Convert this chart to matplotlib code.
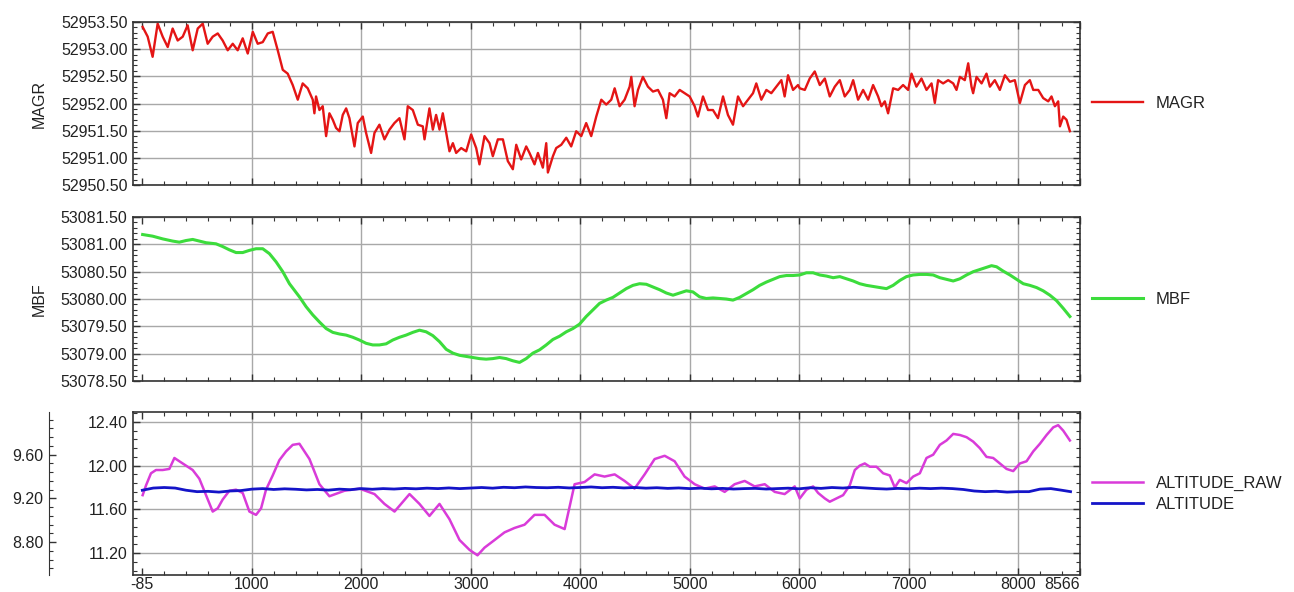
import matplotlib
matplotlib.use("Agg")
import matplotlib.pyplot as plt
from matplotlib.ticker import MultipleLocator, FixedLocator, FormatStrFormatter

plt.rcParams['font.family'] = ['Liberation Sans', 'DejaVu Sans']
plt.rcParams['font.size'] = 11.5

# x axis (record index), shared by all panels
x_ticks = [0, 1000, 2000, 3000, 4000, 5000, 6000, 7000, 8000, 8566]
x_tick_labels = ['-85', '1000', '2000', '3000', '4000', '5000', '6000', '7000', '8000', '8566']

# MAGR
magr_x = [3, 49, 94, 140, 186, 232, 277, 323, 369, 414,
          460, 506, 552, 597, 643, 689, 734, 780, 826, 871,
          917, 963, 1009, 1054, 1100, 1146, 1191, 1237, 1283, 1328,
          1374, 1420,
          1465, 1511, 1557, 1572, 1587, 1618, 1648, 1679, 1709, 1740,
          1770, 1801, 1831, 1862, 1892, 1938, 1968, 2014, 2044, 2090,
          2121, 2166, 2212, 2258, 2303, 2349, 2395, 2425, 2471, 2517,
          2562, 2578, 2623, 2654, 2684, 2715, 2745, 2776, 2806, 2837,
          2867, 2913, 2959, 3004, 3050, 3080, 3126, 3172, 3202, 3248,
          3294, 3339, 3385, 3416, 3461, 3507, 3537, 3583, 3614, 3659,
          3690, 3705, 3751, 3781, 3827, 3873, 3918, 3964, 4010, 4055,
          4101, 4147, 4193, 4238, 4284, 4315, 4360, 4406, 4452, 4467,
          4497, 4528, 4573, 4619, 4665, 4711, 4756, 4787, 4817, 4863,
          4909, 4954, 5000, 5046, 5076, 5122, 5168, 5213, 5259, 5305,
          5350, 5396, 5442, 5488, 5533, 5579, 5609, 5655, 5701, 5746,
          5792, 5838, 5868, 5899, 5945, 5990,
          6006, 6052, 6097, 6143, 6189, 6235, 6280, 6326, 6372, 6417,
          6463, 6494, 6539, 6585, 6631, 6676, 6722, 6752, 6783, 6813,
          6859, 6905, 6950, 6996, 7027, 7072, 7118, 7164, 7210, 7240,
          7270, 7316, 7362, 7408, 7438, 7469, 7514, 7545, 7575, 7590,
          7621, 7667, 7712, 7743, 7788, 7834, 7880, 7926, 7971, 8017,
          8063, 8108, 8139, 8185, 8230, 8276, 8306, 8337, 8367, 8383,
          8413, 8443, 8474]
magr = [52953.41, 52953.23, 52952.86, 52953.47, 52953.23, 52953.04, 52953.38, 52953.16, 52953.23, 52953.44,
        52952.98, 52953.38, 52953.47, 52953.10, 52953.23, 52953.29, 52953.16, 52952.98, 52953.10, 52952.98,
        52953.20, 52952.92, 52953.32, 52953.10, 52953.13, 52953.29, 52953.32, 52952.98, 52952.62, 52952.55,
        52952.34, 52952.07,
        52952.37, 52952.28, 52952.07, 52951.82, 52952.13, 52951.88, 52951.95, 52951.40, 52951.82, 52951.70,
        52951.55, 52951.49, 52951.79, 52951.91, 52951.73, 52951.21, 52951.64, 52951.76, 52951.46, 52951.09,
        52951.46, 52951.61, 52951.34, 52951.52, 52951.64, 52951.73, 52951.34, 52951.95, 52951.88, 52951.61,
        52951.58, 52951.34, 52951.91, 52951.52, 52951.79, 52951.52, 52951.82, 52951.46, 52951.12, 52951.27,
        52951.09, 52951.18, 52951.12, 52951.43, 52951.18, 52950.88, 52951.40, 52951.27, 52951.03, 52951.34,
        52951.34, 52950.94, 52950.79, 52951.24, 52950.97, 52951.21, 52951.09, 52950.88, 52951.09, 52950.82,
        52951.27, 52950.73, 52951.03, 52951.18, 52951.24, 52951.37, 52951.21, 52951.49, 52951.40, 52951.64,
        52951.40, 52951.76, 52952.07, 52951.98, 52952.07, 52952.28, 52951.95, 52952.07, 52952.31, 52952.49,
        52951.95, 52952.25, 52952.49, 52952.31, 52952.22, 52952.25, 52952.07, 52951.73, 52952.19, 52952.13,
        52952.25, 52952.19, 52952.13, 52951.95, 52951.76, 52952.13, 52951.88, 52951.88, 52951.73, 52952.13,
        52951.79, 52951.61, 52952.13, 52951.95, 52952.07, 52952.19, 52952.37, 52952.07, 52952.25, 52952.19,
        52952.31, 52952.43, 52952.13, 52952.52, 52952.25, 52952.34,
        52952.28, 52952.25, 52952.46, 52952.59, 52952.34, 52952.46, 52952.13, 52952.31, 52952.43, 52952.13,
        52952.25, 52952.43, 52952.07, 52952.25, 52952.07, 52952.34, 52952.13, 52951.95, 52952.04, 52951.82,
        52952.28, 52952.25, 52952.34, 52952.25, 52952.55, 52952.31, 52952.46, 52952.25, 52952.37, 52952.01,
        52952.43, 52952.37, 52952.43, 52952.37, 52952.25, 52952.49, 52952.43, 52952.74, 52952.31, 52952.19,
        52952.49, 52952.37, 52952.55, 52952.31, 52952.43, 52952.25, 52952.52, 52952.40, 52952.43, 52952.01,
        52952.34, 52952.43, 52952.25, 52952.25, 52952.10, 52952.04, 52952.13, 52951.95, 52952.04, 52951.58,
        52951.76, 52951.70, 52951.49]

# MBF
mbf_x = [3, 94, 186, 277, 338, 399, 460, 521, 582, 673,
         734, 795, 856, 917, 978, 1039, 1100, 1161, 1222, 1283,
         1344, 1389,
         1435, 1496, 1557, 1618, 1679, 1740, 1801, 1862, 1923, 1983,
         2044, 2105, 2166, 2227, 2288, 2349, 2410, 2471, 2532, 2593,
         2654, 2715, 2776, 2837, 2898, 2959, 3019, 3080, 3141, 3202,
         3263, 3324, 3385, 3446, 3507, 3568, 3629, 3690, 3751, 3812,
         3873, 3934, 3994, 4055, 4116, 4177, 4238, 4299, 4360, 4421,
         4482, 4543, 4604, 4665, 4726, 4787, 4848, 4909, 4970, 5030,
         5091, 5152, 5213, 5274, 5335, 5396, 5457, 5518, 5579, 5640,
         5701, 5762, 5823, 5884, 5945,
         6006, 6067, 6128, 6189, 6250, 6311, 6372, 6433, 6494, 6554,
         6615, 6676, 6737, 6798, 6859, 6920, 6981, 7042, 7103, 7164,
         7225, 7286, 7347, 7408, 7469, 7530, 7591, 7651, 7712, 7758,
         7804, 7865, 7926, 7987, 8048, 8108, 8169, 8230, 8291, 8352,
         8413, 8474]
mbf = [53081.18, 53081.15, 53081.10, 53081.06, 53081.04, 53081.07, 53081.09, 53081.06, 53081.03, 53081.01,
       53080.96, 53080.90, 53080.85, 53080.85, 53080.89, 53080.92, 53080.92, 53080.83, 53080.68, 53080.50,
       53080.28, 53080.16,
       53080.04, 53079.86, 53079.71, 53079.58, 53079.46, 53079.39, 53079.36, 53079.34, 53079.30, 53079.25,
       53079.19, 53079.16, 53079.16, 53079.18, 53079.25, 53079.30, 53079.34, 53079.39, 53079.43, 53079.40,
       53079.33, 53079.22, 53079.08, 53079.01, 53078.97, 53078.95, 53078.93, 53078.91, 53078.90, 53078.91,
       53078.93, 53078.91, 53078.87, 53078.84, 53078.91, 53079.01, 53079.07, 53079.16, 53079.26, 53079.32,
       53079.40, 53079.46, 53079.54, 53079.68, 53079.80, 53079.92, 53079.98, 53080.03, 53080.11, 53080.19,
       53080.25, 53080.28, 53080.27, 53080.22, 53080.17, 53080.11, 53080.07, 53080.11, 53080.15, 53080.13,
       53080.04, 53080.01, 53080.02, 53080.01, 53080.00, 53079.98, 53080.03, 53080.10, 53080.17, 53080.25,
       53080.31, 53080.36, 53080.41, 53080.43, 53080.43,
       53080.44, 53080.48, 53080.48, 53080.44, 53080.42, 53080.39, 53080.41, 53080.37, 53080.33, 53080.28,
       53080.25, 53080.23, 53080.21, 53080.19, 53080.25, 53080.34, 53080.41, 53080.44, 53080.45, 53080.45,
       53080.44, 53080.39, 53080.36, 53080.33, 53080.37, 53080.44, 53080.50, 53080.54, 53080.58, 53080.61,
       53080.59, 53080.51, 53080.44, 53080.36, 53080.28, 53080.25, 53080.21, 53080.15, 53080.07, 53079.97,
       53079.83, 53079.68]

# ALTITUDE_RAW (right-hand scale, 11.x - 12.x)
alt_raw_x = [3, 34, 79, 125, 186, 247, 293, 338, 399, 460,
             521, 582, 643, 689, 734, 795, 856, 917, 978, 1039,
             1085, 1130, 1191, 1252, 1313, 1374, 1435,
             1527, 1618, 1709, 1846, 1984, 2121, 2212, 2304, 2441, 2532,
             2623, 2715, 2806, 2898, 2989, 3062, 3126, 3218, 3309, 3400,
             3492, 3583, 3675, 3766, 3858, 3949, 4040, 4132, 4223, 4315,
             4406, 4497, 4589, 4680, 4772, 4863, 4954, 5046, 5137, 5229,
             5320, 5411, 5503, 5594, 5686, 5777, 5868, 5960,
             6006, 6067, 6128, 6174, 6235, 6280, 6341, 6402, 6463, 6509,
             6554, 6600, 6646, 6707, 6768, 6829, 6874, 6920, 6981, 7042,
             7103, 7164, 7225, 7286, 7347, 7408, 7469, 7530, 7590, 7651,
             7712, 7773, 7834, 7895, 7956, 8017, 8078, 8139, 8200, 8261,
             8322, 8367, 8413, 8474]
alt_raw = [11.73, 11.82, 11.93, 11.96, 11.96, 11.97, 12.07, 12.04, 12.00, 11.96,
           11.88, 11.73, 11.58, 11.61, 11.69, 11.77, 11.78, 11.75, 11.58, 11.55,
           11.61, 11.78, 11.91, 12.05, 12.13, 12.19, 12.20,
           12.06, 11.83, 11.72, 11.77, 11.79, 11.74, 11.65, 11.58, 11.74, 11.65,
           11.54, 11.65, 11.51, 11.32, 11.23, 11.18, 11.25, 11.32, 11.39, 11.43,
           11.46, 11.55, 11.55, 11.46, 11.42, 11.83, 11.85, 11.92, 11.90, 11.92,
           11.86, 11.79, 11.92, 12.06, 12.09, 12.04, 11.90, 11.83, 11.79, 11.81,
           11.76, 11.83, 11.86, 11.81, 11.83, 11.76, 11.74, 11.81,
           11.70, 11.78, 11.81, 11.75, 11.70, 11.67, 11.70, 11.73, 11.82, 11.96,
           12.00, 12.02, 11.99, 11.99, 11.93, 11.91, 11.80, 11.87, 11.84, 11.90,
           11.93, 12.07, 12.10, 12.19, 12.23, 12.29, 12.28, 12.26, 12.22, 12.16,
           12.08, 12.07, 12.02, 11.97, 11.95, 12.02, 12.04, 12.13, 12.20, 12.28,
           12.35, 12.37, 12.32, 12.23]

# ALTITUDE (left-hand offset scale, 8.x - 9.x)
alt_x = list(range(0, 8401, 100)) + [8480]
alt = [9.275, 9.295, 9.300, 9.295, 9.275, 9.262, 9.265, 9.258, 9.268, 9.272, 9.285,
       9.290, 9.282, 9.288, 9.284, 9.278, 9.282, 9.276, 9.285, 9.280, 9.290,
       9.284, 9.290, 9.286, 9.292, 9.288, 9.294, 9.290, 9.296, 9.290, 9.295,
       9.300, 9.294, 9.302, 9.298, 9.305, 9.300, 9.298, 9.302, 9.296, 9.300,
       9.305, 9.298, 9.302, 9.296, 9.300, 9.294, 9.298, 9.292, 9.296, 9.290,
       9.294, 9.288, 9.292, 9.286, 9.290, 9.292, 9.286, 9.290, 9.294, 9.288,
       9.298, 9.292, 9.300, 9.295, 9.302, 9.296, 9.290, 9.286, 9.292, 9.288,
       9.294, 9.290, 9.294, 9.290, 9.282, 9.268, 9.262, 9.266, 9.258, 9.262,
       9.262, 9.285, 9.290, 9.275, 9.262]

text_c = '#222222'
grid_c = '#a8a8a8'


def style_axes(ax, show_xlabels):
    ax.set_xlim(-85, 8566)
    ax.xaxis.set_major_locator(FixedLocator(x_ticks))
    ax.xaxis.set_minor_locator(MultipleLocator(200))
    ax.set_xticklabels(x_tick_labels)
    ax.yaxis.set_major_formatter(FormatStrFormatter('%.2f'))
    ax.tick_params(which='both', direction='in', top=True, right=True,
                   colors='#333333', labelcolor=text_c, labelsize=11.5,
                   labelbottom=show_xlabels, pad=4)
    ax.tick_params(axis='x', pad=1.5)
    ax.tick_params(which='major', length=5, width=1)
    ax.tick_params(which='minor', length=3, width=0.8)
    ax.grid(True, which='major', color=grid_c, lw=1)
    ax.set_axisbelow(True)
    for t in ax.xaxis.get_major_ticks():
        if t.get_loc() in (0, 8566):
            t.gridline.set_visible(False)
    for s in ax.spines.values():
        s.set_color('#333333')
        s.set_linewidth(1.2)


fig = plt.figure(figsize=(12.94, 5.92), dpi=100)
ax1 = fig.add_axes([0.1028, 0.6875, 0.7318, 0.2753])
ax2 = fig.add_axes([0.1028, 0.3564, 0.7318, 0.2770])
ax3 = fig.add_axes([0.1028, 0.0287, 0.7318, 0.2753])

# panel 1
ax1.plot(magr_x, magr, color='#e41515', lw=1.7, label='MAGR')
ax1.set_ylim(52950.5, 52953.5)
ax1.yaxis.set_major_locator(MultipleLocator(0.5))
ax1.yaxis.set_minor_locator(MultipleLocator(0.1))
style_axes(ax1, False)
ax1.set_ylabel('MAGR', fontsize=11.5, color=text_c)
ax1.yaxis.set_label_coords(-0.091, 0.5)

# panel 2
ax2.plot(mbf_x, mbf, color='#3cdc3c', lw=2.2, label='MBF')
ax2.set_ylim(53078.5, 53081.5)
ax2.yaxis.set_major_locator(MultipleLocator(0.5))
ax2.yaxis.set_minor_locator(MultipleLocator(0.1))
style_axes(ax2, False)
ax2.set_ylabel('MBF', fontsize=11.5, color=text_c)
ax2.yaxis.set_label_coords(-0.091, 0.5)

# panel 3
l_raw, = ax3.plot(alt_raw_x, alt_raw, color='#d93bd9', lw=1.8, label='ALTITUDE_RAW')
ax3.set_ylim(11.0, 12.49)
ax3.yaxis.set_major_locator(MultipleLocator(0.4))
ax3.yaxis.set_minor_locator(MultipleLocator(0.08))

ax3b = ax3.twinx()
l_alt, = ax3b.plot(alt_x, alt, color='#1414c8', lw=2.0, label='ALTITUDE')
ax3b.set_ylim(8.5, 9.99)
ax3b.yaxis.set_major_locator(MultipleLocator(0.4))
ax3b.yaxis.set_minor_locator(MultipleLocator(0.08))
ax3b.yaxis.set_major_formatter(FormatStrFormatter('%.2f'))
ax3b.yaxis.tick_left()
ax3b.spines['left'].set_position(('outward', 60.5))
ax3b.spines['left'].set_visible(True)
ax3b.spines['left'].set_color('#333333')
for side in ('right', 'top', 'bottom'):
    ax3b.spines[side].set_visible(False)
ax3b.tick_params(which='both', direction='in', left=True, right=False,
                 labelleft=True, labelright=False, colors='#333333',
                 labelcolor=text_c, labelsize=11.5, pad=4)
ax3b.tick_params(which='major', length=5, width=1)
ax3b.tick_params(which='minor', length=3, width=0.8)

style_axes(ax3, True)
# last label sits inside the right edge, as in the original
ax3.get_xticklabels()[-1].set_horizontalalignment('right')

# legends to the right of each panel
leg_kw = dict(loc='center left', bbox_to_anchor=(1.0, 0.5), frameon=False,
              handlelength=3.1, handletextpad=0.75, borderaxespad=0.3,
              fontsize=12, labelcolor=text_c)
ax1.legend(**leg_kw)
ax2.legend(**leg_kw)
ax3.legend([l_raw, l_alt], ['ALTITUDE_RAW', 'ALTITUDE'], labelspacing=0.35, **leg_kw)

fig.savefig('out.png', dpi=100, facecolor='white')
